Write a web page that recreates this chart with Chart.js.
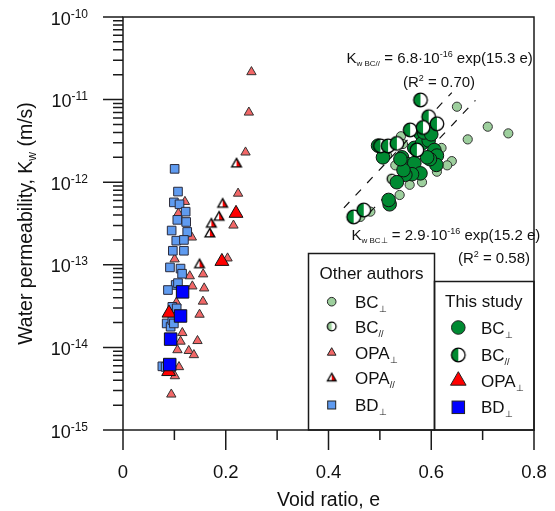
<!DOCTYPE html>
<html>
<head>
<meta charset="utf-8">
<script src="https://cdn.jsdelivr.net/npm/chart.js@4.4.1/dist/chart.umd.min.js"></script>
<style>
  html, body { margin: 0; padding: 0; background: #fff; }
</style>
</head>
<body>
<canvas id="myChart" width="555" height="511"></canvas>
<script>
// ---- data (void ratio e, water permeability Kw in m/s) ----
// other authors
let oBcPerpE = [0.650, 0.710, 0.750, 0.671, 0.640, 0.631, 0.611, 0.582, 0.558, 0.5385, 0.541, 0.514, 0.4815, 0.462, 0.505, 0.545, 0.620, 0.600, 0.530];
let oBcPerpK = [8.2e-12, 4.7e-12, 3.9e-12, 3.3e-12, 1.8e-12, 1.6e-12, 1.34e-12, 1.0e-12, 9.3e-13, 7.0e-13, 3.6e-12, 2.1e-12, 4.4e-13, 3.8e-13, 2.3e-12, 2.9e-12, 2.6e-12, 3.5e-12, 1.6e-12];
let oBcParE = [0.552, 0.523];
let oBcParK = [1.5e-12, 1.1e-12];
let oOpaPerpE = [0.250, 0.245, 0.2385, 0.224, 0.215, 0.134, 0.2035, 0.156, 0.130, 0.1005, 0.135, 0.158, 0.1556, 0.149, 0.1155, 0.145, 0.112, 0.106, 0.128, 0.138, 0.101, 0.094, 0.1205, 0.1077, 0.109, 0.104];
let oOpaPerpK = [2.16e-11, 7.0e-12, 2.3e-12, 7.3e-13, 3.0e-13, 2.15e-13, 1.2e-13, 7.7e-14, 7.3e-14, 1.17e-13, 5.5e-14, 5.2e-14, 3.6e-14, 2.5e-14, 1.5e-14, 1.2e-14, 1.18e-14, 9.3e-15, 9.1e-15, 8.1e-15, 4.5e-15, 2.7e-15, 5.8e-13, 4.2e-13, 5.8e-15, 3.5e-14];
let oOpaParE = [0.221, 0.194, 0.187, 0.172, 0.169, 0.149];
let oOpaParK = [1.66e-12, 5.4e-13, 3.76e-13, 3.1e-13, 2.36e-13, 1.0e-13];
let oBdPerpE = [0.1005, 0.107, 0.099, 0.110, 0.122, 0.1057, 0.123, 0.0947, 0.125, 0.1037, 0.1186, 0.097, 0.1186, 0.0914, 0.112, 0.115, 0.1025, 0.107, 0.0875, 0.096, 0.1045, 0.085, 0.0927, 0.096, 0.099, 0.0766, 0.083];
let oBdPerpK = [1.45e-12, 7.7e-13, 5.7e-13, 5.4e-13, 4.4e-13, 3.5e-13, 3.3e-13, 2.6e-13, 2.5e-13, 1.96e-13, 2.0e-13, 1.48e-13, 1.48e-13, 9.3e-14, 9.0e-14, 7.8e-14, 5.7e-14, 6.0e-14, 4.95e-14, 3.1e-14, 2.97e-14, 1.95e-14, 1.78e-14, 2.15e-14, 1.95e-14, 5.9e-15, 5.8e-15];
// this study
let tBcPerpE = [0.4965, 0.511, 0.506, 0.543, 0.553, 0.567, 0.579, 0.582, 0.595, 0.606, 0.611, 0.610, 0.5975, 0.567, 0.579, 0.5626, 0.5496, 0.533, 0.546, 0.519, 0.517, 0.586, 0.600, 0.540, 0.592];
let tBcPerpK = [2.77e-12, 2.6e-12, 2.0e-12, 2.0e-12, 1.66e-12, 2.6e-12, 3.9e-12, 2.95e-12, 3.2e-12, 2.45e-12, 2.1e-12, 1.62e-12, 1.9e-12, 1.7e-12, 1.28e-12, 1.25e-12, 1.23e-12, 1.0e-12, 1.4e-12, 5.4e-13, 6.1e-13, 4.0e-12, 3.8e-12, 1.9e-12, 2.0e-12];
let tBcParE = [0.579, 0.595, 0.611, 0.559, 0.584, 0.572, 0.501, 0.516, 0.533, 0.449, 0.4685];
let tBcParK = [9.9e-12, 6.2e-12, 5.1e-12, 4.3e-12, 4.6e-12, 2.45e-12, 2.75e-12, 2.75e-12, 2.95e-12, 3.8e-13, 4.6e-13];
let tOpaPerpE = [0.220, 0.1925, 0.0895, 0.0888];
let tOpaPerpK = [4.2e-13, 1.1e-13, 2.6e-14, 5.1e-15];
let tBdPerpE = [0.116, 0.112, 0.0927, 0.091];
let tBdPerpK = [4.7e-14, 2.4e-14, 1.26e-14, 6.2e-15];

// fits Kw = a * exp(b e), [BC//, BC perp]
let fitA = [6.8e-16, 2.9e-16];
let fitB = [15.3, 15.2];
let fitFrom = [0.43, 0.48];
let fitTo = [0.64, 0.686];

// axis ticks
let xMajor = [0, 0.2, 0.4, 0.6, 0.8];
let xLabels = ['0', '0.2', '0.4', '0.6', '0.8'];
let xMinor = [0.1, 0.3, 0.5, 0.7];
let yExp = [-10, -11, -12, -13, -14, -15];

const FONT = '"Liberation Sans", Arial, Helvetica, sans-serif';

function pts(xs, ys) {
    return xs.map(function (x, i) { return { x: x, y: ys[i] }; });
}

function fitPts(k) {
    return [fitFrom[k], fitTo[k]].map(function (e) {
        return { x: e, y: fitA[k] * Math.exp(fitB[k] * e) };
    });
}

// half filled markers
function halfCircle(r, color) {
    let s = Math.ceil(2 * r + 4);
    let c = document.createElement('canvas');
    c.width = s; c.height = s;
    let g = c.getContext('2d');
    let m = s / 2;
    g.fillStyle = '#fff';
    g.beginPath(); g.arc(m, m, r, 0, Math.PI * 2); g.fill();
    g.fillStyle = color;
    g.beginPath(); g.arc(m, m, r, Math.PI / 2, Math.PI * 1.5); g.closePath(); g.fill();
    g.strokeStyle = '#000'; g.lineWidth = 1.3;
    g.beginPath(); g.arc(m, m, r, 0, Math.PI * 2); g.stroke();
    return c;
}

function halfTriangle(r, color) {
    let s = Math.ceil(2 * r + 4);
    let c = document.createElement('canvas');
    c.width = s; c.height = s;
    let g = c.getContext('2d');
    let m = s / 2;
    let h = r * Math.sqrt(3) / 2;
    let top = m - r, bot = m + r / 2;
    g.fillStyle = '#fff';
    g.beginPath(); g.moveTo(m, top); g.lineTo(m - h, bot); g.lineTo(m, bot); g.closePath(); g.fill();
    g.fillStyle = color;
    g.beginPath(); g.moveTo(m, top); g.lineTo(m + h, bot); g.lineTo(m, bot); g.closePath(); g.fill();
    g.strokeStyle = '#000'; g.lineWidth = 1.3;
    g.beginPath(); g.moveTo(m, top); g.lineTo(m + h, bot); g.lineTo(m - h, bot); g.closePath(); g.stroke();
    return c;
}

let LIGHT_GREEN = '#9DCF9D';
let DARK_GREEN = '#008A32';
let LIGHT_RED = '#F26767';
let RED = '#FF0000';
let LIGHT_BLUE = '#5F9BF0';
let BLUE = '#0000FF';

let imgBcParSmall = halfCircle(4.6, LIGHT_GREEN);
let imgBcParBig = halfCircle(6.8, DARK_GREEN);
let imgOpaPar = halfTriangle(5.6, RED);

function drawRuns(ctx, runs, x, y, align) {
    let w = 0;
    runs.forEach(function (r) {
        ctx.font = r[1] + 'px ' + FONT;
        w += ctx.measureText(r[0]).width;
    });
    let cx = x;
    if (align === 'center') cx = x - w / 2;
    if (align === 'right') cx = x - w;
    ctx.textAlign = 'left';
    ctx.textBaseline = 'alphabetic';
    runs.forEach(function (r) {
        ctx.font = r[1] + 'px ' + FONT;
        ctx.fillText(r[0], cx, y + (r[2] || 0));
        cx += ctx.measureText(r[0]).width;
    });
}

// marker drawing for the legend, same shapes as the chart points
function legendMarker(ctx, kind, x, y) {
    ctx.save();
    ctx.lineWidth = 1;
    ctx.strokeStyle = '#222';
    if (kind === 'oBcPerp' || kind === 'tBcPerp') {
        ctx.fillStyle = kind === 'oBcPerp' ? LIGHT_GREEN : DARK_GREEN;
        ctx.beginPath(); ctx.arc(x, y, kind === 'oBcPerp' ? 4.3 : 6.8, 0, Math.PI * 2);
        ctx.fill(); ctx.stroke();
    } else if (kind === 'oBcPar' || kind === 'tBcPar') {
        let im = kind === 'oBcPar' ? halfCircle(4.3, LIGHT_GREEN) : imgBcParBig;
        ctx.drawImage(im, x - im.width / 2, y - im.height / 2);
    } else if (kind === 'oOpaPerp' || kind === 'tOpaPerp') {
        let r = kind === 'oOpaPerp' ? 5 : 9;
        ctx.fillStyle = kind === 'oOpaPerp' ? LIGHT_RED : RED;
        let h = r * Math.sqrt(3) / 2;
        ctx.beginPath(); ctx.moveTo(x, y - r); ctx.lineTo(x + h, y + r / 2); ctx.lineTo(x - h, y + r / 2); ctx.closePath();
        ctx.fill(); ctx.stroke();
    } else if (kind === 'oOpaPar') {
        let im = halfTriangle(5, RED);
        ctx.drawImage(im, x - im.width / 2, y - im.height / 2);
    } else {
        let s = kind === 'oBdPerp' ? 8 : 12.5;
        ctx.fillStyle = kind === 'oBdPerp' ? LIGHT_BLUE : BLUE;
        ctx.fillRect(x - s / 2, y - s / 2, s, s);
        ctx.strokeRect(x - s / 2, y - s / 2, s, s);
    }
    ctx.restore();
}

let PERP = '\u22A5';

let decorPlugin = {
    id: 'decor',
    afterDraw: function (chart) {
        let ctx = chart.ctx;
        let a = chart.chartArea;
        let xs = chart.scales.x;
        let ys = chart.scales.y;
        ctx.save();
        ctx.strokeStyle = '#1a1a1a';
        ctx.fillStyle = '#111';
        ctx.lineWidth = 1.5;

        // legend boxes
        ctx.fillStyle = '#fff';
        ctx.fillRect(308.5, 253.5, 126, a.bottom - 253.5);
        ctx.fillRect(434.5, 281.5, a.right - 434.5, a.bottom - 281.5);
        ctx.strokeRect(308.5, 253.5, 126, a.bottom - 253.5);
        ctx.strokeRect(434.5, 281.5, a.right - 434.5, a.bottom - 281.5);

        // frame
        ctx.strokeRect(a.left, a.top, a.right - a.left, a.bottom - a.top);

        // x ticks
        ctx.beginPath();
        xMajor.forEach(function (v) {
            let px = xs.getPixelForValue(v);
            ctx.moveTo(px, a.bottom); ctx.lineTo(px, a.bottom + 20);
        });
        xMinor.forEach(function (v) {
            let px = xs.getPixelForValue(v);
            ctx.moveTo(px, a.bottom); ctx.lineTo(px, a.bottom + 10);
        });
        // y ticks
        yExp.forEach(function (e) {
            let py = ys.getPixelForValue(Math.pow(10, e));
            ctx.moveTo(a.left, py); ctx.lineTo(a.left - 20, py);
            if (e > -10) return;
            for (let k = 2; k <= 9; k++) {
                if (e === -10) break;
                let q = ys.getPixelForValue(k * Math.pow(10, e));
                ctx.moveTo(a.left, q); ctx.lineTo(a.left - 10, q);
            }
        });
        ctx.stroke();

        ctx.fillStyle = '#111';
        // x tick labels
        xMajor.forEach(function (v, i) {
            drawRuns(ctx, [[xLabels[i], 18.5]], xs.getPixelForValue(v), 478, 'center');
        });
        // y tick labels
        yExp.forEach(function (e) {
            let py = ys.getPixelForValue(Math.pow(10, e));
            drawRuns(ctx, [['10', 18], [String(e), 12, -7]], 88, py + 7.5, 'right');
        });

        // axis titles
        drawRuns(ctx, [['Void ratio, e', 19.5]], (a.left + a.right) / 2, 506, 'center');
        ctx.save();
        ctx.translate(32, (a.top + a.bottom) / 2);
        ctx.rotate(-Math.PI / 2);
        drawRuns(ctx, [['Water permeability, K', 19.5], ['w', 12, 4], [' (m/s)', 19.5]], 0, 0, 'center');
        ctx.restore();

        // fit equations
        drawRuns(ctx, [['K', 15], ['w BC//', 8, 3], [' = 6.8\u00B710', 15], ['-16', 9, -6], [' exp(15.3 e)', 15]], 346.5, 63, 'left');
        drawRuns(ctx, [['(R', 15], ['2', 9, -6], [' = 0.70)', 15]], 439, 87, 'center');
        drawRuns(ctx, [['K', 15], ['w BC' + PERP, 8, 3], [' = 2.9\u00B710', 15], ['-16', 9, -6], [' exp(15.2 e)', 15]], 351.5, 240, 'left');
        drawRuns(ctx, [['(R', 15], ['2', 9, -6], [' = 0.58)', 15]], 530, 263, 'right');

        // legends
        drawRuns(ctx, [['Other authors', 17]], 319.5, 279, 'left');
        let oRows = [
            ['oBcPerp', 'BC', PERP], ['oBcPar', 'BC', '//'], ['oOpaPerp', 'OPA', PERP],
            ['oOpaPar', 'OPA', '//'], ['oBdPerp', 'BD', PERP]
        ];
        let oY = [301.7, 326.5, 352.7, 378.3, 405];
        oRows.forEach(function (r, i) {
            legendMarker(ctx, r[0], 331.7, oY[i]);
            ctx.fillStyle = '#111';
            drawRuns(ctx, [[r[1], 17], [r[2], 9, 4]], 355, oY[i] + 6, 'left');
        });
        drawRuns(ctx, [['This study', 17]], 445, 306.7, 'left');
        let tRows = [['tBcPerp', 'BC', PERP], ['tBcPar', 'BC', '//'], ['tOpaPerp', 'OPA', PERP], ['tBdPerp', 'BD', PERP]];
        let tY = [327.5, 355, 380.7, 407.3];
        tRows.forEach(function (r, i) {
            legendMarker(ctx, r[0], 458.3, tY[i]);
            ctx.fillStyle = '#111';
            drawRuns(ctx, [[r[1], 17], [r[2], 9, 4]], 481, tY[i] + 6, 'left');
        });
        ctx.restore();
    }
};

let data = {
    datasets: [
        { label: 'BD perp (this study)', data: pts(tBdPerpE, tBdPerpK), order: 1, pointStyle: 'rect', pointRadius: 8.8, backgroundColor: BLUE, borderColor: '#111', borderWidth: 1 },
        { label: 'BC par (this study)', data: pts(tBcParE, tBcParK), order: 2, pointStyle: imgBcParBig, pointRadius: 7 },
        { label: 'BC perp (this study)', data: pts(tBcPerpE, tBcPerpK), order: 3, pointStyle: 'circle', pointRadius: 6.8, backgroundColor: DARK_GREEN, borderColor: '#111', borderWidth: 1 },
        { label: 'OPA perp (this study)', data: pts(tOpaPerpE, tOpaPerpK), order: 4, pointStyle: 'triangle', pointRadius: 8, backgroundColor: RED, borderColor: '#111', borderWidth: 1 },
        { label: 'fit BC par', data: fitPts(0), order: 5, showLine: true, pointRadius: 0, borderColor: '#111', borderWidth: 1.2, borderDash: [8, 9] },
        { label: 'fit BC perp', data: fitPts(1), order: 5, showLine: true, pointRadius: 0, borderColor: '#111', borderWidth: 1.2, borderDash: [8, 9] },
        { label: 'BD perp', data: pts(oBdPerpE, oBdPerpK), order: 6, pointStyle: 'rect', pointRadius: 6.1, backgroundColor: LIGHT_BLUE, borderColor: '#2a2a3a', borderWidth: 1 },
        { label: 'BC par', data: pts(oBcParE, oBcParK), order: 7, pointStyle: imgBcParSmall, pointRadius: 5 },
        { label: 'BC perp', data: pts(oBcPerpE, oBcPerpK), order: 8, pointStyle: 'circle', pointRadius: 4.6, backgroundColor: LIGHT_GREEN, borderColor: '#333', borderWidth: 1 },
        { label: 'OPA par', data: pts(oOpaParE, oOpaParK), order: 9, pointStyle: imgOpaPar, pointRadius: 5.6 },
        { label: 'OPA perp', data: pts(oOpaPerpE, oOpaPerpK), order: 10, pointStyle: 'triangle', pointRadius: 5.4, backgroundColor: LIGHT_RED, borderColor: '#333', borderWidth: 1 }
    ]
};

let config = {
    type: 'scatter',
    data: data,
    options: {
        responsive: false,
        animation: false,
        devicePixelRatio: 1,
        layout: { padding: { left: 123, top: 17, right: 21, bottom: 81 } },
        plugins: {
            legend: { display: false },
            tooltip: { enabled: false }
        },
        scales: {
            x: { type: 'linear', display: false, min: 0, max: 0.8, bounds: 'data' },
            y: { type: 'logarithmic', display: false, min: 1e-15, max: 1e-10, bounds: 'data' }
        }
    },
    plugins: [decorPlugin]
};

let myChart = new Chart(document.getElementById('myChart'), config);
</script>
</body>
</html>
